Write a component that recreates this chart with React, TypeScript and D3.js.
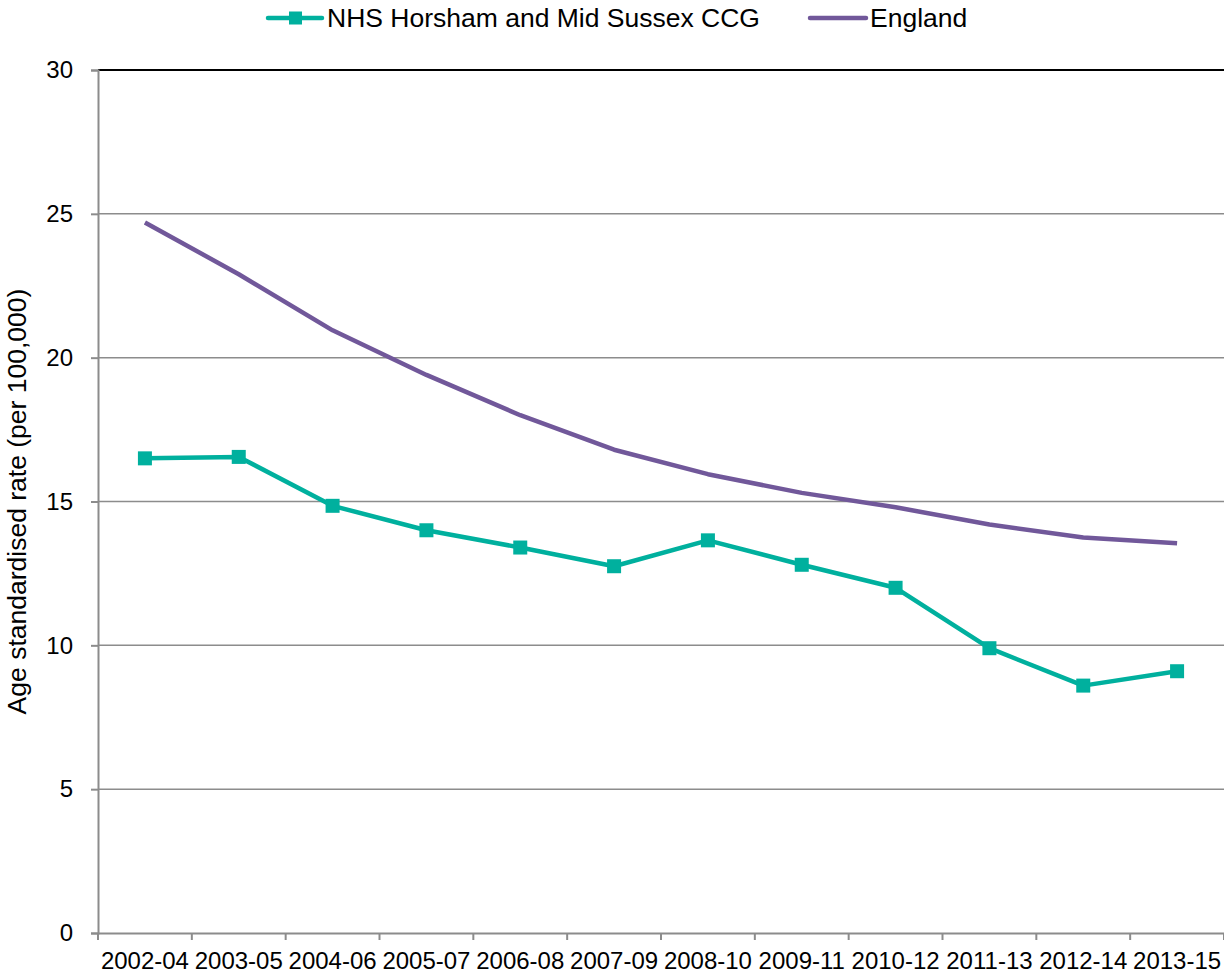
import * as d3 from 'd3'
import { useEffect, useRef } from 'react'

const periods = [
  '2002-04', '2003-05', '2004-06', '2005-07', '2006-08', '2007-09',
  '2008-10', '2009-11', '2010-12', '2011-13', '2012-14', '2013-15'
]
const ccgValues = [16.5, 16.55, 14.85, 14.0, 13.4, 12.75, 13.65, 12.8, 12.0, 9.9, 8.6, 9.1]
const englandValues = [24.7, 22.9, 20.95, 19.4, 18.0, 16.8, 15.95, 15.3, 14.8, 14.2, 13.75, 13.55]
const yTicks = [0, 5, 10, 15, 20, 25, 30]

const TEAL = '#00B09E'
const PURPLE = '#71589A'
const FONT = '"Liberation Sans", Arial, sans-serif'

const App = () => {
  const ref = useRef<SVGSVGElement>(null)

  useEffect(() => {
    if (!ref.current) return
    const svg = d3.select(ref.current)
    svg.selectAll('*').remove()

    const left = 98
    const right = 1224
    const top = 70
    const bottom = 933

    const x = d3.scaleBand().domain(periods).range([left, right]).padding(0)
    const y = d3.scaleLinear().domain([0, 30]).range([bottom, top])
    const cx = (p: string) => x(p)! + x.bandwidth() / 2

    // gridlines
    svg.append('g')
      .selectAll('line')
      .data(yTicks.filter(t => t > 0 && t < 30))
      .enter()
      .append('line')
      .attr('x1', left)
      .attr('x2', right)
      .attr('y1', d => y(d))
      .attr('y2', d => y(d))
      .attr('stroke', '#8c8c8c')
      .attr('stroke-width', 1.5)

    // top border
    svg.append('line')
      .attr('x1', left).attr('x2', right)
      .attr('y1', y(30)).attr('y2', y(30))
      .attr('stroke', '#000').attr('stroke-width', 2)

    // left axis
    const yAxis = svg.append('g')
      .attr('transform', `translate(${left},0)`)
      .call(d3.axisLeft(y).tickValues(yTicks).tickSize(7).tickPadding(18).tickFormat(d3.format('d')))
    yAxis.select('.domain').attr('stroke', '#8c8c8c').attr('stroke-width', 2)
    yAxis.selectAll('.tick line').attr('stroke', '#8c8c8c').attr('stroke-width', 2)
    yAxis.selectAll('text')
      .style('font-family', FONT)
      .style('font-size', '24px')
      .attr('fill', '#000')

    // bottom axis
    const xAxis = svg.append('g')
      .attr('transform', `translate(0,${bottom})`)
      .call(d3.axisBottom(x).tickSize(0).tickPadding(19))
    xAxis.select('.domain').attr('stroke', '#8c8c8c').attr('stroke-width', 2)
    xAxis.selectAll('text')
      .style('font-family', FONT)
      .style('font-size', '24px')
      .attr('fill', '#000')

    // bottom tick marks at band boundaries
    const bounds = periods.map(p => x(p)!).concat([right])
    svg.append('g')
      .selectAll('line')
      .data(bounds)
      .enter()
      .append('line')
      .attr('x1', d => d).attr('x2', d => d)
      .attr('y1', bottom).attr('y2', bottom + 7)
      .attr('stroke', '#8c8c8c').attr('stroke-width', 2)

    // y title
    svg.append('text')
      .attr('transform', `translate(26,${(top + bottom) / 2}) rotate(-90)`)
      .attr('text-anchor', 'middle')
      .style('font-family', FONT)
      .style('font-size', '26.5px')
      .text('Age standardised rate (per 100,000)')

    const line = d3.line<number>()
      .x((_, i) => cx(periods[i]))
      .y(d => y(d))

    svg.append('path')
      .datum(englandValues)
      .attr('fill', 'none')
      .attr('stroke', PURPLE)
      .attr('stroke-width', 4.5)
      .attr('stroke-linejoin', 'round')
      .attr('d', line)

    svg.append('path')
      .datum(ccgValues)
      .attr('fill', 'none')
      .attr('stroke', TEAL)
      .attr('stroke-width', 4.5)
      .attr('stroke-linejoin', 'round')
      .attr('d', line)

    svg.append('g')
      .selectAll('rect')
      .data(ccgValues)
      .enter()
      .append('rect')
      .attr('x', (_, i) => cx(periods[i]) - 7)
      .attr('y', d => y(d) - 7)
      .attr('width', 14)
      .attr('height', 14)
      .attr('fill', TEAL)

    // legend
    const legendY = 18
    const legend = svg.append('g')
    legend.append('line')
      .attr('x1', 268).attr('x2', 322)
      .attr('y1', legendY).attr('y2', legendY)
      .attr('stroke', TEAL).attr('stroke-width', 4.5).attr('stroke-linecap', 'round')
    legend.append('rect')
      .attr('x', 289).attr('y', legendY - 6.5)
      .attr('width', 13).attr('height', 13)
      .attr('fill', TEAL)
    legend.append('text')
      .attr('x', 327).attr('y', legendY).attr('dy', '0.35em')
      .style('font-family', FONT).style('font-size', '26.5px')
      .text('NHS Horsham and Mid Sussex CCG')
    legend.append('line')
      .attr('x1', 810).attr('x2', 866)
      .attr('y1', legendY).attr('y2', legendY)
      .attr('stroke', PURPLE).attr('stroke-width', 4.5).attr('stroke-linecap', 'round')
    legend.append('text')
      .attr('x', 870).attr('y', legendY).attr('dy', '0.35em')
      .style('font-family', FONT).style('font-size', '26.5px')
      .text('England')
  }, [])

  return (
    <svg
      ref={ref}
      width={1224}
      height={976}
      style={{ position: 'absolute', left: 0, top: 0, background: '#fff', display: 'block' }}
    />
  )
}

export default App
